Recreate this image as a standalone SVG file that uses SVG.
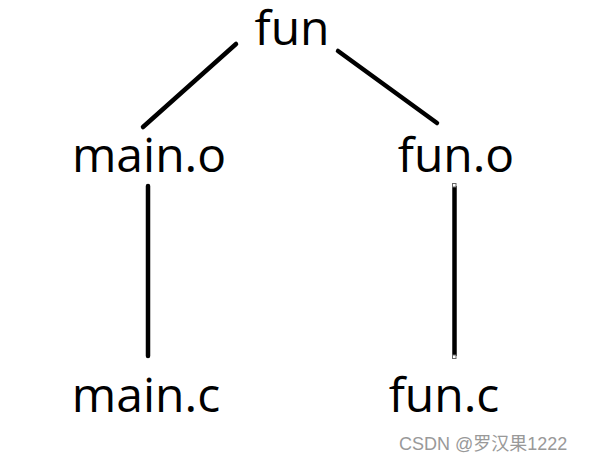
<svg xmlns="http://www.w3.org/2000/svg" width="596" height="461" viewBox="0 0 596 461">
<style>
.t{font-family:"Open Sans","Noto Sans","Liberation Sans",sans-serif;font-size:48px;fill:#000}
.e{stroke:#000;stroke-width:4.5;stroke-linecap:round;fill:none}
.h{fill:#fff;stroke:#666;stroke-width:1}
.w{font-family:"Liberation Sans","Noto Sans CJK SC",sans-serif;font-size:18px;fill:#999}
</style>
<rect width="596" height="461" fill="#fff"/>
<g id="connectors">
<line class="e" x1="236" y1="44" x2="143" y2="127"/>
<line class="e" x1="338" y1="51" x2="437" y2="123"/>
<line class="e" x1="148" y1="186" x2="148" y2="356"/>
<line x1="454.5" y1="186" x2="454.5" y2="356" stroke="#000" stroke-width="4.5"/>
<rect class="h" x="452.5" y="183.5" width="3.5" height="3.5"/>
<rect class="h" x="452.5" y="355" width="3.5" height="3.5"/>
</g>
<g id="fun"><text class="t" x="292" y="45" text-anchor="middle">fun</text></g>
<g id="main_o"><text class="t" x="149" y="172" text-anchor="middle">main.o</text></g>
<g id="fun_o"><text class="t" x="456" y="172" text-anchor="middle">fun.o</text></g>
<g id="main_c"><text class="t" x="146" y="412" text-anchor="middle">main.c</text></g>
<g id="fun_c"><text class="t" x="444" y="412" text-anchor="middle">fun.c</text></g>
<text class="w" x="399" y="450">CSDN @罗汉果1222</text>
</svg>
